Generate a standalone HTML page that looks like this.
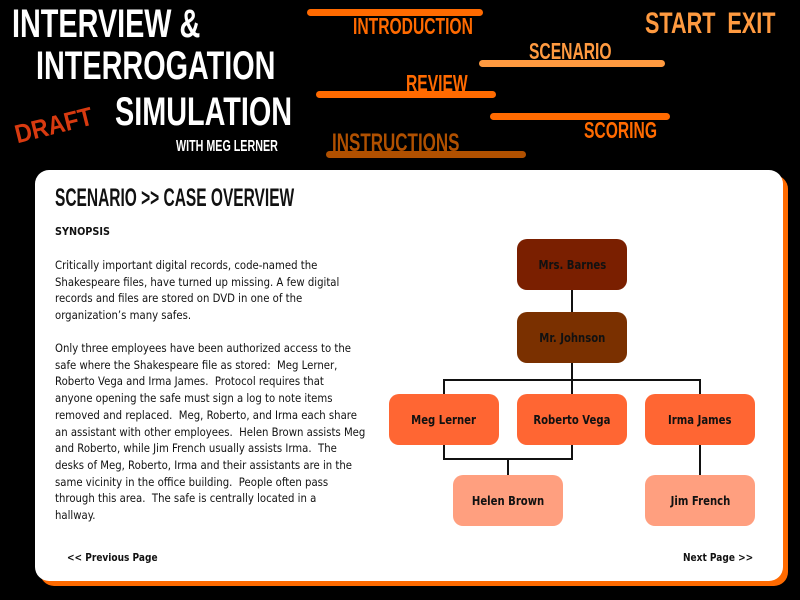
<!DOCTYPE html>
<html><head><meta charset="utf-8"><style>
body{margin:0;width:800px;height:600px;background:#000;position:relative;overflow:hidden;font-family:"DejaVu Sans","Liberation Sans",sans-serif}
.c{position:absolute;font-family:"Liberation Sans",sans-serif;font-weight:bold;transform-origin:0 0;white-space:nowrap;line-height:1}
.bar{position:absolute;height:7px;border-radius:4px}
.panel{position:absolute;left:35px;top:170px;width:748px;height:411px;background:#fff;border-radius:14px;box-shadow:5px 5px 0 #ff6a00}
.t{position:absolute;left:55px;font-size:11.5px;color:#111;white-space:nowrap;line-height:16.7px;transform-origin:0 0;transform:scaleX(.88)}
.n{position:absolute;width:110px;height:51px;border-radius:10px;display:flex;align-items:center;justify-content:center;font-size:12px;font-weight:bold;color:#111}
.n span{display:inline-block;transform:scaleX(.84)}
.l{position:absolute;background:#111}
</style></head><body>
<div class="c" style="left:12px;top:4px;font-size:40px;color:#fff;transform:scaleX(.72)">INTERVIEW &amp;</div>
<div class="c" style="left:36px;top:46px;font-size:40px;color:#fff;transform:scaleX(.72)">INTERROGATION</div>
<div class="c" style="left:115px;top:92px;font-size:40px;color:#fff;transform:scaleX(.72)">SIMULATION</div>
<div class="c" style="left:12px;top:122px;font-size:26px;color:#d83a10;transform:rotate(-14deg) scaleX(.9)">DRAFT</div>
<div class="c" style="left:176px;top:139px;font-size:16px;color:#fff;transform:scaleX(.67)">WITH MEG LERNER</div>

<div class="bar" style="left:307px;top:9px;width:176px;background:#ff6a00"></div>
<div class="c" style="left:353px;top:15px;font-size:23px;color:#ff6a00;transform:scaleX(.68)">INTRODUCTION</div>
<div class="c" style="left:529px;top:40px;font-size:23px;color:#ff9a40;transform:scaleX(.68)">SCENARIO</div>
<div class="bar" style="left:479px;top:60px;width:186px;background:#ff9a40"></div>
<div class="c" style="left:406px;top:72px;font-size:23px;color:#ff6a00;transform:scaleX(.68)">REVIEW</div>
<div class="bar" style="left:316px;top:91px;width:180px;background:#ff6a00"></div>
<div class="bar" style="left:490px;top:113px;width:180px;background:#ff6a00"></div>
<div class="c" style="left:584px;top:119px;font-size:23px;color:#ff6a00;transform:scaleX(.68)">SCORING</div>
<div class="c" style="left:332px;top:131px;font-size:25px;color:#b05000;transform:scaleX(.68)">INSTRUCTIONS</div>
<div class="bar" style="left:326px;top:151px;width:200px;background:#b05000"></div>
<div class="c" style="left:645px;top:9px;font-size:30px;color:#ff9a40;transform:scaleX(.72)">START&nbsp;&nbsp;EXIT</div>

<div class="panel"></div>
<div class="c" style="left:55px;top:186px;font-size:25px;color:#111;transform:scaleX(.62)">SCENARIO &gt;&gt; CASE OVERVIEW</div>
<div class="t" style="top:224px;font-weight:bold;font-size:11px">SYNOPSIS</div>
<div class="t" style="top:257px">Critically important digital records, code-named the<br>Shakespeare files, have turned up missing. A few digital<br>records and files are stored on DVD in one of the<br>organization’s many safes.</div>
<div class="t" style="top:340px">Only three employees have been authorized access to the<br>safe where the Shakespeare file as stored:&nbsp; Meg Lerner,<br>Roberto Vega and Irma James.&nbsp; Protocol requires that<br>anyone opening the safe must sign a log to note items<br>removed and replaced.&nbsp; Meg, Roberto, and Irma each share<br>an assistant with other employees.&nbsp; Helen Brown assists Meg<br>and Roberto, while Jim French usually assists Irma.&nbsp; The<br>desks of Meg, Roberto, Irma and their assistants are in the<br>same vicinity in the office building.&nbsp; People often pass<br>through this area.&nbsp; The safe is centrally located in a<br>hallway.</div>
<div class="t" style="left:67px;top:550px;font-weight:bold;font-size:11px;transform:scaleX(.82)">&lt;&lt; Previous Page</div>
<div class="t" style="left:683px;top:550px;font-weight:bold;font-size:11px;transform:scaleX(.82)">Next Page &gt;&gt;</div>

<div class="l" style="left:571px;top:290px;width:2px;height:22px"></div>
<div class="l" style="left:571px;top:363px;width:2px;height:31px"></div>
<div class="l" style="left:443px;top:379px;width:258px;height:2px"></div>
<div class="l" style="left:443px;top:379px;width:2px;height:15px"></div>
<div class="l" style="left:699px;top:379px;width:2px;height:15px"></div>
<div class="l" style="left:443px;top:444px;width:2px;height:16px"></div>
<div class="l" style="left:571px;top:444px;width:2px;height:16px"></div>
<div class="l" style="left:443px;top:458px;width:130px;height:2px"></div>
<div class="l" style="left:507px;top:458px;width:2px;height:17px"></div>
<div class="l" style="left:699px;top:444px;width:2px;height:31px"></div>

<div class="n" style="left:517px;top:239px;background:#7a1f00"><span>Mrs. Barnes</span></div>
<div class="n" style="left:517px;top:312px;background:#7a3000"><span>Mr. Johnson</span></div>
<div class="n" style="left:389px;top:394px;background:#ff6633"><span>Meg Lerner</span></div>
<div class="n" style="left:517px;top:394px;background:#ff6633"><span>Roberto Vega</span></div>
<div class="n" style="left:645px;top:394px;background:#ff6633"><span>Irma James</span></div>
<div class="n" style="left:453px;top:475px;background:#ff9f7f"><span>Helen Brown</span></div>
<div class="n" style="left:645px;top:475px;background:#ff9f7f"><span>Jim French</span></div>
</body></html>
